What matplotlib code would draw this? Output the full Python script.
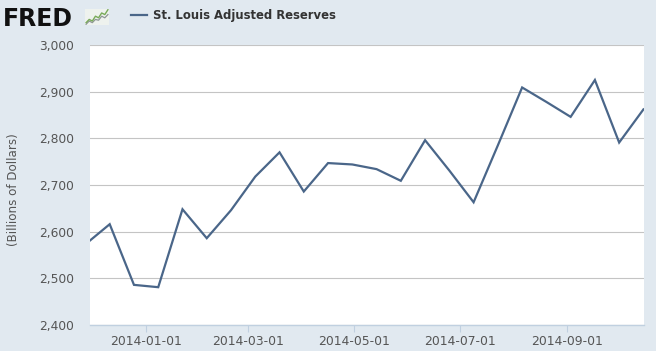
import pandas as pd
import matplotlib.pyplot as plt
import matplotlib.dates as mdates
from matplotlib.ticker import FuncFormatter

# Datos: reservas ajustadas St. Louis (miles de millones de dólares), quincenal
fechas = ['2013-11-27', '2013-12-11', '2013-12-25', '2014-01-08', '2014-01-22',
          '2014-02-05', '2014-02-19', '2014-03-05', '2014-03-19', '2014-04-02',
          '2014-04-16', '2014-04-30', '2014-05-14', '2014-05-28', '2014-06-11',
          '2014-06-25', '2014-07-09', '2014-07-23', '2014-08-06', '2014-08-20',
          '2014-09-03', '2014-09-17', '2014-10-01', '2014-10-15']
reservas = [2573, 2616, 2486, 2481, 2648, 2586, 2646, 2718, 2770, 2686,
            2747, 2744, 2734, 2709, 2796, 2731, 2663, 2785, 2909, 2878,
            2846, 2925, 2791, 2862]

ticks_x = ['2014-01-01', '2014-03-01', '2014-05-01', '2014-07-01', '2014-09-01']
ticks_y = [2400, 2500, 2600, 2700, 2800, 2900, 3000]
rango_x = ['2013-11-29 15:00', '2014-10-15 08:00']

# Icono del logo (decoración)
icono_verde = [1, 3, 2, 5, 4, 7, 6, 9]
icono_gris = [0, 2, 1, 3, 2.5, 5, 4, 6]

color_fondo = '#e1e9f0'
color_linea = '#4a6689'
color_texto = '#555555'

fig = plt.figure(figsize=(6.56, 3.51), dpi=100, facecolor=color_fondo)
W, H = 656, 351

ax = fig.add_axes([90 / W, (H - 325) / H, 554 / W, 280 / H])
ax.set_facecolor('white')

x = pd.to_datetime(fechas)
ax.plot(x, reservas, color=color_linea, linewidth=1.6, solid_joinstyle='miter')

ax.set_xlim(pd.to_datetime(rango_x[0]), pd.to_datetime(rango_x[1]))
ax.set_ylim(ticks_y[0], ticks_y[-1])
ax.set_yticks(ticks_y)
ax.yaxis.set_major_formatter(FuncFormatter(lambda v, p: f'{int(v):,}'))
ax.set_xticks(pd.to_datetime(ticks_x))
ax.xaxis.set_major_formatter(mdates.DateFormatter('%Y-%m-%d'))

ax.grid(axis='y', color='#c4c4c4', linewidth=0.8)
ax.set_axisbelow(True)
for lado in ['left', 'right', 'top']:
    ax.spines[lado].set_visible(False)
ax.spines['bottom'].set_color('#c0d0e0')
ax.spines['bottom'].set_linewidth(1.0)

ax.tick_params(axis='y', length=0, pad=11.5, labelsize=8.8, labelcolor=color_texto)
ax.tick_params(axis='x', length=5, width=0.8, color='#c0d0e0', pad=2,
               labelsize=8.9, labelcolor=color_texto)

fig.text(14 / W, 1 - 190 / H, '(Billions of Dollars)', rotation=90,
         ha='center', va='center', fontsize=8.6, color=color_texto)

# Cabecera: logo y leyenda
fig.text(3 / W, 1 - 26 / H, 'FRED', fontsize=17, fontweight='heavy',
         color='#111111', va='baseline', ha='left')
ax_ico = fig.add_axes([85 / W, 1 - 25 / H, 24 / W, 16 / H])
ax_ico.set_facecolor('#eef2ee')
ax_ico.plot(icono_gris, color='#8f9696', linewidth=0.9)
ax_ico.plot(icono_verde, color='#78aa58', linewidth=1.0)
ax_ico.set_xticks([])
ax_ico.set_yticks([])
for s in ax_ico.spines.values():
    s.set_visible(False)

fig.add_artist(plt.Line2D([131 / W, 147 / W], [1 - 15 / H, 1 - 15 / H],
                          color=color_linea, linewidth=1.6))
fig.text(153 / W, 1 - 15 / H, 'St. Louis Adjusted Reserves', fontsize=8.4,
         fontweight='bold', color='#333333', va='center', ha='left')

fig.savefig('out.png', dpi=100, facecolor=color_fondo)
